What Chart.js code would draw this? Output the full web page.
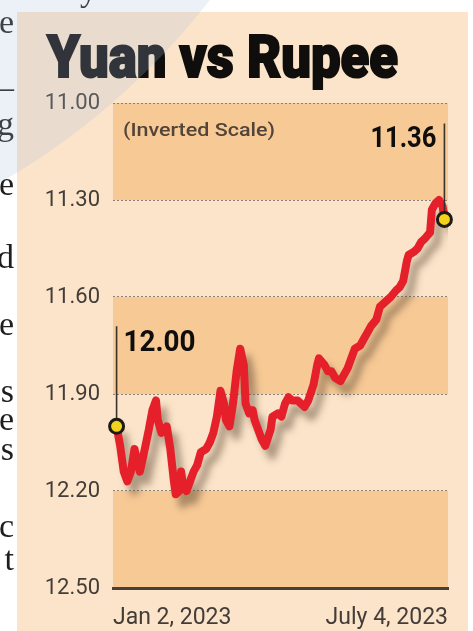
<!DOCTYPE html>
<html><head><meta charset="utf-8">
<script src="https://cdn.jsdelivr.net/npm/chart.js@4.4.1/dist/chart.umd.min.js"></script>
<style>
html,body{margin:0;padding:0;width:473px;height:631px;overflow:hidden;background:#fff;}
#wrap{position:relative;width:473px;height:631px;overflow:hidden;}
canvas{position:absolute;left:0;top:0;}
#title{position:absolute;left:47px;top:27px;font-family:Roboto,'Open Sans',sans-serif;font-weight:900;font-size:60px;color:#100e0c;white-space:nowrap;line-height:1;transform-origin:0 0;-webkit-text-stroke:2px #100e0c;}
.art{position:absolute;font-family:'Liberation Serif','DejaVu Serif',serif;font-size:34px;color:#1e1e1e;line-height:1;white-space:nowrap;}
#tint{position:absolute;left:-1089px;top:-1172px;width:1452px;height:1452px;border-radius:50%;background:rgba(170,190,222,0.22);pointer-events:none;}
</style></head>
<body>
<div id="wrap">
<canvas id="c" width="473" height="631"></canvas>
<div id="title">Yuan vs Rupee</div>
<div id="art"></div>
<div id="tint"></div>
</div>
<script>
// ---- data ----
const titleText = 'Yuan vs Rupee';
const noteText = '(Inverted Scale)';
const yTicks = [11.00, 11.30, 11.60, 11.90, 12.20, 12.50];
const xTickLabels = ['Jan 2, 2023', 'July 4, 2023'];
// days since Jan 2, 2023
const days = [0,2,4,6,8,10,12,13,15,18,20,22,23,25,27,28,30,32,33,35,36,37,39,41,43,45,47,50,52,54,56,58,60,61,63,65,67,69,71,72,74,76,77,79,81,83,86,87,90,92,94,96,98,101,103,105,107,110,112,113,116,118,120,122,125,127,129,131,133,136,138,140,142,145,147,149,151,153,156,158,160,162,163,166,168,170,172,175,176,178,180,182,183];
// CNY/INR rate
const rate = [12.00,12.06,12.14,12.17,12.14,12.07,12.12,12.14,12.09,12.01,11.95,11.92,11.98,12.02,12.01,12.00,12.07,12.17,12.21,12.20,12.14,12.18,12.20,12.17,12.14,12.12,12.08,12.07,12.05,12.02,11.97,11.89,11.93,11.98,12.00,11.93,11.83,11.76,11.81,11.93,11.96,11.95,11.98,12.01,12.04,12.06,12.01,11.97,11.96,11.97,11.93,11.91,11.92,11.92,11.93,11.94,11.92,11.87,11.81,11.79,11.81,11.83,11.83,11.85,11.86,11.84,11.82,11.79,11.76,11.75,11.73,11.71,11.69,11.67,11.63,11.62,11.61,11.60,11.58,11.57,11.55,11.49,11.47,11.46,11.45,11.43,11.42,11.40,11.33,11.31,11.30,11.32,11.36];
const startLabel = '12.00';
const endLabel = '11.36';
// cut-off letters of the neighbouring newspaper column
const articleLetters = ['e','–','g','e','d','e','s','e','s','c','t'];
const articleBaselines = [35,100,137,197,270,337,404,432,462,539,572];

// ---- page text ----
const art = document.getElementById('art');
articleLetters.forEach((ch, i) => {
  const s = document.createElement('div');
  s.className = 'art';
  s.textContent = ch;
  s.style.right = (473 - 14) + 'px';
  s.style.top = (articleBaselines[i] - 30) + 'px';
  art.appendChild(s);
});
const yy = document.createElement('div');
yy.className = 'art'; yy.textContent = 'y';
yy.style.left = '80px'; yy.style.top = '-27px';
art.appendChild(yy);

const titleEl = document.getElementById('title');
titleEl.textContent = titleText;
const tw = titleEl.getBoundingClientRect().width;
titleEl.style.transform = 'scaleX(' + (351 / tw) + ')';

function fitText(ctx, text, x, y, font, width, align) {
  ctx.save();
  ctx.font = font;
  const w = ctx.measureText(text).width;
  const k = width / w;
  ctx.textBaseline = 'alphabetic';
  ctx.textAlign = 'left';
  const x0 = align === 'right' ? x - width : x;
  ctx.translate(x0, y);
  ctx.scale(k, 1);
  ctx.fillText(text, 0, 0);
  ctx.restore();
}

const bgPlugin = {
  id: 'bg',
  beforeDraw(chart) {
    const {ctx, chartArea: a, scales: {y}} = chart;
    ctx.save();
    ctx.fillStyle = '#ffffff';
    ctx.fillRect(0, 0, chart.width, chart.height);
    ctx.fillStyle = '#fbe4c9';
    ctx.fillRect(17, 12, 451, 619);
    ctx.fillStyle = '#f7c995';
    for (let i = 0; i < yTicks.length - 1; i += 2) {
      const t = y.getPixelForValue(yTicks[i]);
      const b = y.getPixelForValue(yTicks[i + 1]);
      ctx.fillRect(a.left, t, a.right - a.left, b - t);
    }
    ctx.restore();
  }
};

const shadowPlugin = {
  id: 'shadow',
  beforeDatasetDraw(chart) {
    const ctx = chart.ctx;
    ctx.save();
    ctx.shadowColor = 'rgba(95,75,55,0.5)';
    ctx.shadowBlur = 7;
    ctx.shadowOffsetX = 7;
    ctx.shadowOffsetY = 10;
  },
  afterDatasetDraw(chart) { chart.ctx.restore(); }
};

const calloutPlugin = {
  id: 'callouts',
  afterDatasetsDraw(chart) {
    const {ctx, chartArea: a, scales: {y}} = chart;
    const pts = chart.getDatasetMeta(0).data;
    const p0 = pts[0], pN = pts[pts.length - 1];
    ctx.save();
    ctx.strokeStyle = '#3a332d';
    ctx.lineWidth = 1.6;
    ctx.beginPath();
    ctx.moveTo(p0.x, p0.y); ctx.lineTo(p0.x, p0.y - 100);
    ctx.moveTo(pN.x, pN.y); ctx.lineTo(pN.x, pN.y - 96);
    ctx.stroke();
    [p0, pN].forEach(p => {
      ctx.beginPath();
      ctx.arc(p.x, p.y, 7, 0, Math.PI * 2);
      ctx.fillStyle = '#f3d21c';
      ctx.fill();
      ctx.lineWidth = 3;
      ctx.strokeStyle = '#1e1a16';
      ctx.stroke();
    });
    ctx.fillStyle = '#100e0c';
    fitText(ctx, startLabel, p0.x + 7, p0.y - 75, 'bold 30px Roboto', 72, 'left');
    fitText(ctx, endLabel, pN.x - 8, pN.y - 72, 'bold 30px Roboto', 66, 'right');
    ctx.fillStyle = '#524438';
    fitText(ctx, noteText, a.left + 10, y.getPixelForValue(yTicks[0]) + 33, '500 19px Roboto', 152, 'left');
    ctx.restore();
  }
};

new Chart(document.getElementById('c'), {
  type: 'line',
  data: {
    datasets: [{
      data: days.map((d, i) => ({x: d, y: rate[i]})),
      borderColor: '#e5202b',
      borderWidth: 8,
      pointRadius: 0,
      tension: 0,
      borderJoinStyle: 'round',
      borderCapStyle: 'round',
      fill: false
    }]
  },
  options: {
    responsive: false,
    devicePixelRatio: 1,
    animation: false,
    events: [],
    layout: {padding: {top: 103, right: 25, left: 0, bottom: 0}},
    plugins: {legend: {display: false}, tooltip: {enabled: false}, title: {display: false}},
    scales: {
      x: {
        type: 'linear',
        min: -2,
        max: 185,
        afterBuildTicks(scale) { scale.ticks = [{value: -2}, {value: 185}]; },
        afterFit(scale) { scale.height = 43; },
        grid: {display: false},
        border: {display: true, color: '#4a4038', width: 3},
        ticks: {
          autoSkip: false,
          maxRotation: 0,
          align: 'inner',
          padding: 8,
          color: '#433c37',
          font: {family: 'Roboto', size: 23},
          callback: (v, i) => xTickLabels[i]
        }
      },
      y: {
        reverse: true,
        min: yTicks[0],
        max: yTicks[yTicks.length - 1],
        afterBuildTicks(scale) { scale.ticks = yTicks.map(v => ({value: v})); },
        afterFit(scale) { scale.width = 113; },
        grid: {
          drawTicks: false,
          lineWidth: 1,
          color: c => (c.tick && c.tick.value === yTicks[yTicks.length - 1]) ? 'rgba(0,0,0,0)' : '#8d7f72'
        },
        border: {display: false, dash: [2, 2]},
        ticks: {
          padding: 13,
          color: '#433c37',
          font: {family: 'Roboto', size: 22},
          callback: v => Number(v).toFixed(2)
        }
      }
    }
  },
  plugins: [bgPlugin, shadowPlugin, calloutPlugin]
});
</script>
</body></html>
